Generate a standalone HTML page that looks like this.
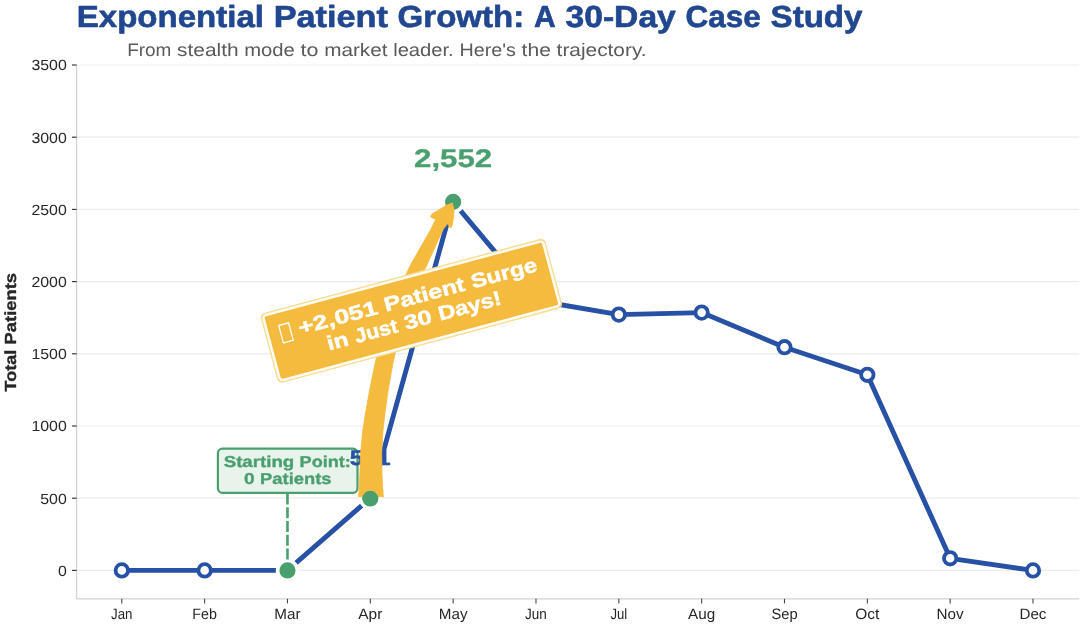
<!DOCTYPE html>
<html><head><meta charset="utf-8"><title>Exponential Patient Growth</title>
<style>html,body{margin:0;padding:0;background:#fff}body{width:1085px;height:625px;overflow:hidden;font-family:"Liberation Sans",sans-serif}svg{display:block;will-change:transform;text-rendering:geometricPrecision}</style>
</head><body>
<svg width="1085" height="625" viewBox="0 0 1085 625" font-family="'Liberation Sans', sans-serif">
<rect width="1085" height="625" fill="#fff"/>
<line x1="76.6" x2="1079.2" y1="570.40" y2="570.40" stroke="#ececec" stroke-width="1.2"/>
<line x1="76.6" x2="1079.2" y1="498.20" y2="498.20" stroke="#ececec" stroke-width="1.2"/>
<line x1="76.6" x2="1079.2" y1="426.00" y2="426.00" stroke="#ececec" stroke-width="1.2"/>
<line x1="76.6" x2="1079.2" y1="353.80" y2="353.80" stroke="#ececec" stroke-width="1.2"/>
<line x1="76.6" x2="1079.2" y1="281.60" y2="281.60" stroke="#ececec" stroke-width="1.2"/>
<line x1="76.6" x2="1079.2" y1="209.40" y2="209.40" stroke="#ececec" stroke-width="1.2"/>
<line x1="76.6" x2="1079.2" y1="137.20" y2="137.20" stroke="#ececec" stroke-width="1.2"/>
<line x1="76.6" x2="1079.2" y1="65.00" y2="65.00" stroke="#ececec" stroke-width="1.2"/>
<line x1="76.6" x2="76.6" y1="65.0" y2="598.8" stroke="#d2d2d2" stroke-width="1.3"/>
<line x1="76.6" x2="1079.2" y1="598.8" y2="598.8" stroke="#d2d2d2" stroke-width="1.3"/>
<line x1="72.0" x2="76.6" y1="570.40" y2="570.40" stroke="#2a2a2a" stroke-width="1.1"/>
<g font-size="14.73" fill="#262626" ><text x="57.96" y="575.75" textLength="8.84" lengthAdjust="spacingAndGlyphs">0</text></g>
<line x1="72.0" x2="76.6" y1="498.20" y2="498.20" stroke="#2a2a2a" stroke-width="1.1"/>
<g font-size="14.73" fill="#262626" ><text x="40.27" y="503.55" textLength="26.53" lengthAdjust="spacingAndGlyphs">500</text></g>
<line x1="72.0" x2="76.6" y1="426.00" y2="426.00" stroke="#2a2a2a" stroke-width="1.1"/>
<g font-size="14.73" fill="#262626" ><text x="31.42" y="431.35" textLength="35.38" lengthAdjust="spacingAndGlyphs">1000</text></g>
<line x1="72.0" x2="76.6" y1="353.80" y2="353.80" stroke="#2a2a2a" stroke-width="1.1"/>
<g font-size="14.73" fill="#262626" ><text x="31.42" y="359.15" textLength="35.38" lengthAdjust="spacingAndGlyphs">1500</text></g>
<line x1="72.0" x2="76.6" y1="281.60" y2="281.60" stroke="#2a2a2a" stroke-width="1.1"/>
<g font-size="14.73" fill="#262626" ><text x="31.42" y="286.95" textLength="35.38" lengthAdjust="spacingAndGlyphs">2000</text></g>
<line x1="72.0" x2="76.6" y1="209.40" y2="209.40" stroke="#2a2a2a" stroke-width="1.1"/>
<g font-size="14.73" fill="#262626" ><text x="31.42" y="214.75" textLength="35.38" lengthAdjust="spacingAndGlyphs">2500</text></g>
<line x1="72.0" x2="76.6" y1="137.20" y2="137.20" stroke="#2a2a2a" stroke-width="1.1"/>
<g font-size="14.73" fill="#262626" ><text x="31.42" y="142.55" textLength="35.38" lengthAdjust="spacingAndGlyphs">3000</text></g>
<line x1="72.0" x2="76.6" y1="65.00" y2="65.00" stroke="#2a2a2a" stroke-width="1.1"/>
<g font-size="14.73" fill="#262626" ><text x="31.42" y="70.35" textLength="35.38" lengthAdjust="spacingAndGlyphs">3500</text></g>
<line x1="121.80" x2="121.80" y1="598.8" y2="603.4" stroke="#444" stroke-width="1.1"/>
<g font-size="15.01" fill="#262626" ><text x="111.09" y="618.70" textLength="21.43" lengthAdjust="spacingAndGlyphs">Jan</text></g>
<line x1="204.64" x2="204.64" y1="598.8" y2="603.4" stroke="#444" stroke-width="1.1"/>
<g font-size="15.01" fill="#262626" ><text x="192.33" y="618.70" textLength="24.61" lengthAdjust="spacingAndGlyphs">Feb</text></g>
<line x1="287.47" x2="287.47" y1="598.8" y2="603.4" stroke="#444" stroke-width="1.1"/>
<g font-size="15.01" fill="#262626" ><text x="274.36" y="618.70" textLength="26.23" lengthAdjust="spacingAndGlyphs">Mar</text></g>
<line x1="370.31" x2="370.31" y1="598.8" y2="603.4" stroke="#444" stroke-width="1.1"/>
<g font-size="15.01" fill="#262626" ><text x="358.29" y="618.70" textLength="24.05" lengthAdjust="spacingAndGlyphs">Apr</text></g>
<line x1="453.15" x2="453.15" y1="598.8" y2="603.4" stroke="#444" stroke-width="1.1"/>
<g font-size="15.01" fill="#262626" ><text x="438.78" y="618.70" textLength="28.74" lengthAdjust="spacingAndGlyphs">May</text></g>
<line x1="535.98" x2="535.98" y1="598.8" y2="603.4" stroke="#444" stroke-width="1.1"/>
<g font-size="15.01" fill="#262626" ><text x="525.12" y="618.70" textLength="21.72" lengthAdjust="spacingAndGlyphs">Jun</text></g>
<line x1="618.82" x2="618.82" y1="598.8" y2="603.4" stroke="#444" stroke-width="1.1"/>
<g font-size="15.01" fill="#262626" ><text x="610.43" y="618.70" textLength="16.77" lengthAdjust="spacingAndGlyphs">Jul</text></g>
<line x1="701.65" x2="701.65" y1="598.8" y2="603.4" stroke="#444" stroke-width="1.1"/>
<g font-size="15.01" fill="#262626" ><text x="688.08" y="618.70" textLength="27.14" lengthAdjust="spacingAndGlyphs">Aug</text></g>
<line x1="784.49" x2="784.49" y1="598.8" y2="603.4" stroke="#444" stroke-width="1.1"/>
<g font-size="15.01" fill="#262626" ><text x="771.39" y="618.70" textLength="26.20" lengthAdjust="spacingAndGlyphs">Sep</text></g>
<line x1="867.33" x2="867.33" y1="598.8" y2="603.4" stroke="#444" stroke-width="1.1"/>
<g font-size="15.01" fill="#262626" ><text x="855.31" y="618.70" textLength="24.03" lengthAdjust="spacingAndGlyphs">Oct</text></g>
<line x1="950.16" x2="950.16" y1="598.8" y2="603.4" stroke="#444" stroke-width="1.1"/>
<g font-size="15.01" fill="#262626" ><text x="936.60" y="618.70" textLength="27.13" lengthAdjust="spacingAndGlyphs">Nov</text></g>
<line x1="1033.00" x2="1033.00" y1="598.8" y2="603.4" stroke="#444" stroke-width="1.1"/>
<g font-size="15.01" fill="#262626" ><text x="1019.55" y="618.70" textLength="26.90" lengthAdjust="spacingAndGlyphs">Dec</text></g>
<g font-size="16.07" font-weight="bold" stroke="#262626" stroke-width="0.34" stroke-linejoin="round" fill="#262626" transform="translate(16.1,332.3) rotate(-90)"><text x="-59.25" y="0.00" textLength="41.80" lengthAdjust="spacingAndGlyphs">Total</text><text x="-12.12" y="0.00" textLength="71.38" lengthAdjust="spacingAndGlyphs">Patients</text></g>
<g font-size="30.47" font-weight="bold" stroke="#20478F" stroke-width="0.62" stroke-linejoin="round" fill="#20478F" ><text x="76.80" y="27.20" textLength="187.13" lengthAdjust="spacingAndGlyphs">Exponential</text><text x="273.70" y="27.20" textLength="114.16" lengthAdjust="spacingAndGlyphs">Patient</text><text x="397.62" y="27.20" textLength="126.64" lengthAdjust="spacingAndGlyphs">Growth:</text><text x="534.02" y="27.20" textLength="21.71" lengthAdjust="spacingAndGlyphs">A</text><text x="565.50" y="27.20" textLength="110.31" lengthAdjust="spacingAndGlyphs">30-Day</text><text x="685.57" y="27.20" textLength="75.23" lengthAdjust="spacingAndGlyphs">Case</text><text x="770.57" y="27.20" textLength="91.94" lengthAdjust="spacingAndGlyphs">Study</text></g>
<g font-size="18.05" fill="#5a5a5a" ><text x="127.20" y="56.30" textLength="44.23" lengthAdjust="spacingAndGlyphs">From</text><text x="177.10" y="56.30" textLength="61.49" lengthAdjust="spacingAndGlyphs">stealth</text><text x="244.26" y="56.30" textLength="50.62" lengthAdjust="spacingAndGlyphs">mode</text><text x="300.56" y="56.30" textLength="17.92" lengthAdjust="spacingAndGlyphs">to</text><text x="324.15" y="56.30" textLength="63.35" lengthAdjust="spacingAndGlyphs">market</text><text x="393.17" y="56.30" textLength="60.57" lengthAdjust="spacingAndGlyphs">leader.</text><text x="459.42" y="56.30" textLength="56.54" lengthAdjust="spacingAndGlyphs">Here&#39;s</text><text x="521.63" y="56.30" textLength="29.29" lengthAdjust="spacingAndGlyphs">the</text><text x="556.60" y="56.30" textLength="89.98" lengthAdjust="spacingAndGlyphs">trajectory.</text></g>
<polyline points="121.80,570.40 204.64,570.40 287.47,570.40 370.31,498.06 453.15,201.89 535.98,300.50 618.82,314.60 701.65,312.60 784.49,347.20 867.33,374.80 950.16,558.30 1033.00,570.40" fill="none" stroke="#2751A5" stroke-width="4.9" stroke-linejoin="round" stroke-linecap="butt"/>
<circle cx="121.80" cy="570.40" r="6.2" fill="#fff" stroke="#2751A5" stroke-width="3.8"/>
<circle cx="204.64" cy="570.40" r="6.2" fill="#fff" stroke="#2751A5" stroke-width="3.8"/>
<circle cx="287.47" cy="570.40" r="6.2" fill="#fff" stroke="#2751A5" stroke-width="3.8"/>
<circle cx="370.31" cy="498.06" r="6.2" fill="#fff" stroke="#2751A5" stroke-width="3.8"/>
<circle cx="453.15" cy="201.89" r="6.2" fill="#fff" stroke="#2751A5" stroke-width="3.8"/>
<circle cx="535.98" cy="300.50" r="6.2" fill="#fff" stroke="#2751A5" stroke-width="3.8"/>
<circle cx="618.82" cy="314.60" r="6.2" fill="#fff" stroke="#2751A5" stroke-width="3.8"/>
<circle cx="701.65" cy="312.60" r="6.2" fill="#fff" stroke="#2751A5" stroke-width="3.8"/>
<circle cx="784.49" cy="347.20" r="6.2" fill="#fff" stroke="#2751A5" stroke-width="3.8"/>
<circle cx="867.33" cy="374.80" r="6.2" fill="#fff" stroke="#2751A5" stroke-width="3.8"/>
<circle cx="950.16" cy="558.30" r="6.2" fill="#fff" stroke="#2751A5" stroke-width="3.8"/>
<circle cx="1033.00" cy="570.40" r="6.2" fill="#fff" stroke="#2751A5" stroke-width="3.8"/>
<circle cx="287.47" cy="570.40" r="9.9" fill="#4A9F6F" stroke="#fff" stroke-width="3.6"/>
<circle cx="370.31" cy="498.06" r="9.9" fill="#4A9F6F" stroke="#fff" stroke-width="3.6"/>
<circle cx="453.15" cy="201.89" r="9.9" fill="#4A9F6F" stroke="#fff" stroke-width="3.6"/>
<line x1="287.47" x2="287.47" y1="493.6" y2="560.6" stroke="#4A9F6F" stroke-width="2.6" stroke-dasharray="11 2.7"/>
<rect x="217.9" y="448.6" width="139.6" height="44.2" rx="4.5" fill="#E6F2EA" fill-opacity="0.93" stroke="#4A9F6F" stroke-width="2.2"/>
<g font-size="15.76" font-weight="bold" stroke="#4A9F6F" stroke-width="0.34" stroke-linejoin="round" fill="#4A9F6F" ><text x="223.69" y="466.70" textLength="70.61" lengthAdjust="spacingAndGlyphs">Starting</text><text x="299.62" y="466.70" textLength="51.29" lengthAdjust="spacingAndGlyphs">Point:</text></g>
<g font-size="15.76" font-weight="bold" stroke="#4A9F6F" stroke-width="0.34" stroke-linejoin="round" fill="#4A9F6F" ><text x="244.13" y="483.60" textLength="10.65" lengthAdjust="spacingAndGlyphs">0</text><text x="260.10" y="483.60" textLength="71.38" lengthAdjust="spacingAndGlyphs">Patients</text></g>
<g font-size="21.07" font-weight="bold" stroke="#2751A5" stroke-width="0.43" stroke-linejoin="round" fill="#2751A5" ><text x="349.85" y="465.00" textLength="40.91" lengthAdjust="spacingAndGlyphs">501</text></g>
<g font-size="25.44" font-weight="bold" stroke="#4A9F6F" stroke-width="0.30" stroke-linejoin="round" fill="#4A9F6F" ><text x="414.08" y="167.10" textLength="78.13" lengthAdjust="spacingAndGlyphs">2,552</text></g>
<path d="M358.3,496.7 L358.7,494.9 L359.8,474.7 L360.6,453.2 L362.6,431.6 L365.5,413.0 L369.4,391.2 L374.6,365.6 L380.6,340.0 L388.6,315.0 L398.6,290.0 L411.5,263.0 L417.0,253.5 L422.6,243.8 L426.3,237.2 L430.7,229.4 L432.6,225.6 L435.6,219.6 L430.8,217.0 L431.8,214.0 L440.0,209.2 L446.4,205.2 L452.4,203.0 L454.0,210.0 L453.6,216.4 L452.4,224.4 L451.2,227.6 L449.2,226.8 L447.6,223.6 L447.6,223.6 L443.2,229.4 L439.9,236.5 L436.5,243.8 L432.2,253.5 L427.8,263.0 L415.2,290.0 L405.7,315.0 L398.1,340.0 L392.5,365.6 L388.0,391.2 L385.0,413.0 L382.9,431.6 L381.7,453.2 L382.0,474.7 L383.2,494.9 L383.5,496.7Z" fill="#F4BB3E" stroke="#F4BB3E" stroke-width="0.8" stroke-linejoin="round"/>
<circle cx="370.31" cy="498.56" r="7.9" fill="#4A9F6F"/>
<g transform="translate(411.4,310.8) rotate(-15.0)">
<rect x="-146.80" y="-35.50" width="293.6" height="71.0" rx="4.5" fill="#F4BB3E" stroke="#F8DD96" stroke-width="1.3"/>
<rect x="-144.90" y="-33.60" width="289.8" height="67.2" rx="3.2" fill="none" stroke="#FFFDF3" stroke-width="2.6"/>
<rect x="-131.93" y="-20.08" width="10.20" height="17.99" fill="none" stroke="#fff" stroke-width="1.3"/>
<g font-size="20.09" font-weight="bold" stroke="#fff" stroke-width="0.45" stroke-linejoin="round" fill="#fff" ><text x="-113.61" y="-5.70" textLength="81.62" lengthAdjust="spacingAndGlyphs">+2,051</text><text x="-24.89" y="-5.70" textLength="83.03" lengthAdjust="spacingAndGlyphs">Patient</text><text x="65.24" y="-5.70" textLength="67.72" lengthAdjust="spacingAndGlyphs">Surge</text></g>
<g font-size="20.09" font-weight="bold" stroke="#fff" stroke-width="0.45" stroke-linejoin="round" fill="#fff" ><text x="-90.02" y="17.10" textLength="21.52" lengthAdjust="spacingAndGlyphs">in</text><text x="-61.40" y="17.10" textLength="44.01" lengthAdjust="spacingAndGlyphs">Just</text><text x="-10.29" y="17.10" textLength="28.39" lengthAdjust="spacingAndGlyphs">30</text><text x="25.20" y="17.10" textLength="64.82" lengthAdjust="spacingAndGlyphs">Days!</text></g>
</g>
</svg>
</body></html>
